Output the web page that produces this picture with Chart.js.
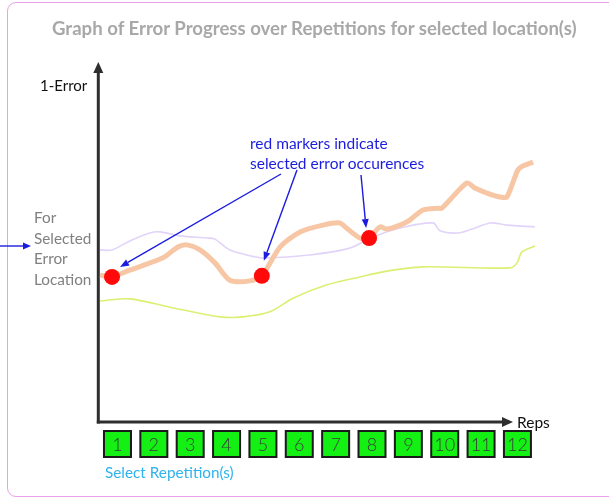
<!DOCTYPE html>
<html>
<head>
<meta charset="utf-8">
<script src="https://cdn.jsdelivr.net/npm/chart.js@4/dist/chart.umd.min.js"></script>
<style>
  html, body { margin: 0; padding: 0; background: #fff; }
  #wrap { position: relative; width: 609px; height: 502px; overflow: hidden; font-family: Lato, "Open Sans", sans-serif; }
  #frame { position: absolute; left: 7px; top: 2px; width: 640px; height: 495px; border: 1.5px solid #eca0e6; border-radius: 9px; box-sizing: border-box; }
  canvas { position: absolute; left: 0; top: 0; }
  .t { position: absolute; white-space: nowrap; }
  #title { left: 52px; top: 15px; font-size: 18.6px; line-height: 26px; font-weight: bold; color: #a8a8a8; }
  #ylab { left: 40px; top: 75px; font-size: 15px; line-height: 20px; color: #111; }
  #xlab { left: 517px; top: 412px; font-size: 15.5px; line-height: 20px; color: #111; }
  #side { left: 34px; top: 207px; font-size: 15.3px; line-height: 20.5px; color: #808080; }
  #note { left: 250px; top: 133px; font-size: 15.5px; line-height: 20px; color: #1c1ce0; }
  #sel { left: 105px; top: 462px; font-size: 15.3px; line-height: 20px; color: #2fb3ec; }
</style>
</head>
<body>
<div id="wrap">
  <div id="frame"></div>
  <canvas id="c" width="609" height="502"></canvas>
  <div class="t" id="title">Graph of Error Progress over Repetitions for selected location(s)</div>
  <div class="t" id="ylab">1-Error</div>
  <div class="t" id="xlab">Reps</div>
  <div class="t" id="side">For<br>Selected<br>Error<br>Location</div>
  <div class="t" id="note">red markers indicate<br>selected error occurences</div>
  <div class="t" id="sel">Select Repetition(s)</div>
</div>
<script>
// ---- data (x = repetition position, y = 1-Error, arbitrary 0..100 scale) ----
const repLabels = ['1','2','3','4','5','6','7','8','9','10','11','12'];
const repValues = [1,2,3,4,5,6,7,8,9,10,11,12];

const selectedX = [0.52,0.85,1.34,2.25,2.66,2.91,3.27,3.68,4.09,4.64,4.97,5.47,6.02,6.65,7.12,7.26,7.67,7.92,8.22,8.41,8.77,9.04,9.40,9.79,9.92,10.61,10.83,11.16,11.52,11.71,12.01,12.15,12.43];
const selectedY = [40.8,40.3,42.2,45.6,48.6,49.2,47.8,44.2,39.4,39.2,40.6,48.6,52.8,54.7,55.3,54.2,51.1,51.1,54.2,53.6,54.7,56.1,58.9,59.4,59.4,66.4,65.0,63.6,62.5,62.5,70.0,71.1,72.2];

const upperX = [0.52,0.85,1.34,1.89,2.17,2.72,3.46,3.68,4.09,4.92,5.19,6.29,7.39,8.03,8.77,9.68,9.87,10.37,10.75,11.25,11.71,12.48];
const upperY = [47.8,47.8,50.3,52.5,52.8,51.7,51.1,50.8,47.8,45.6,45.6,46.4,48.3,51.4,53.9,55.3,53.1,52.5,53.6,55.3,54.7,54.2];

const lowerX = [0.52,1.34,2.44,3.82,4.45,5.19,5.83,6.76,7.67,8.41,9.40,11.79,11.99,12.12,12.48];
const lowerY = [33.6,34.2,31.9,29.2,29.2,30.6,34.4,38.1,40.3,41.9,43.1,42.8,44.2,47.2,48.9];

const markerX = [0.85,4.97,7.92];
const markerY = [40.3,40.6,51.1];

const pts = (xs, ys) => xs.map((x, i) => ({x: x, y: ys[i]}));

const BLUE = '#1c1ce0';

function arrow(ctx, x1, y1, x2, y2, color, width, head, half) {
  const a = Math.atan2(y2 - y1, x2 - x1);
  const bx = x2 - head * Math.cos(a), by = y2 - head * Math.sin(a);
  ctx.save();
  ctx.strokeStyle = color; ctx.fillStyle = color; ctx.lineWidth = width;
  ctx.beginPath(); ctx.moveTo(x1, y1); ctx.lineTo(bx, by); ctx.stroke();
  ctx.beginPath();
  ctx.moveTo(x2, y2);
  ctx.lineTo(bx + half * Math.sin(a), by - half * Math.cos(a));
  ctx.lineTo(bx - half * Math.sin(a), by + half * Math.cos(a));
  ctx.closePath(); ctx.fill();
  ctx.restore();
}

const decor = {
  id: 'decor',
  beforeDatasetsDraw(chart) {
    const ctx = chart.ctx, a = chart.chartArea;
    const x0 = a.left - 1, y0 = a.bottom;
    arrow(ctx, x0, y0 + 1.5, x0, a.top, '#2e2e2e', 3, 11, 5);
    arrow(ctx, x0 - 1.5, y0, 513, y0, '#2e2e2e', 3, 11, 5);
  },
  afterDraw(chart) {
    const ctx = chart.ctx, xs = chart.scales.x, ys = chart.scales.y;
    const m = markerX.map((x, i) => [xs.getPixelForValue(x), ys.getPixelForValue(markerY[i])]);
    arrow(ctx, 281, 174, m[0][0] + 8, m[0][1] - 10, BLUE, 1.4, 9, 3.5);
    arrow(ctx, 297, 170, m[1][0] + 2, m[1][1] - 15, BLUE, 1.4, 9, 3.5);
    arrow(ctx, 361, 175, m[2][0] - 3, m[2][1] - 10, BLUE, 1.4, 9, 3.5);
    arrow(ctx, 0, 246, 31, 246, BLUE, 1.4, 8, 3.5);
    ctx.save();
    repValues.forEach((v, i) => {
      const cx = xs.getPixelForValue(v);
      ctx.fillStyle = '#14f014';
      ctx.fillRect(cx - 13.5, 431, 27, 26);
      ctx.strokeStyle = '#1a1a1a'; ctx.lineWidth = 2;
      ctx.strokeRect(cx - 13.5, 431, 27, 26);
      ctx.fillStyle = '#3a3a3a';
      ctx.font = '300 18px Lato';
      ctx.textAlign = 'center'; ctx.textBaseline = 'middle';
      ctx.fillText(repLabels[i], cx, 445);
    });
    ctx.restore();
  }
};

new Chart(document.getElementById('c'), {
  type: 'line',
  data: {
    datasets: [
      { label: 'markers', data: pts(markerX, markerY), showLine: false, pointRadius: 8, pointBackgroundColor: '#ff0a0a', pointBorderWidth: 0, order: 0 },
      { label: 'selected', data: pts(selectedX, selectedY), borderColor: '#f7c6a4', borderWidth: 5, pointRadius: 0, tension: 0.25, order: 1 },
      { label: 'upper', data: pts(upperX, upperY), borderColor: '#e2d4f8', borderWidth: 1.6, pointRadius: 0, tension: 0.3, order: 2 },
      { label: 'lower', data: pts(lowerX, lowerY), borderColor: '#dcef72', borderWidth: 1.6, pointRadius: 0, tension: 0.3, order: 3 }
    ]
  },
  options: {
    responsive: false,
    animation: false,
    layout: { padding: { left: 99.3, right: 55.2, top: 62, bottom: 80 } },
    scales: {
      x: { type: 'linear', min: 0.5, max: 13, display: false },
      y: { min: 0, max: 100, display: false }
    },
    plugins: { legend: { display: false }, tooltip: { enabled: false } },
    events: []
  },
  plugins: [decor]
});
</script>
</body>
</html>
